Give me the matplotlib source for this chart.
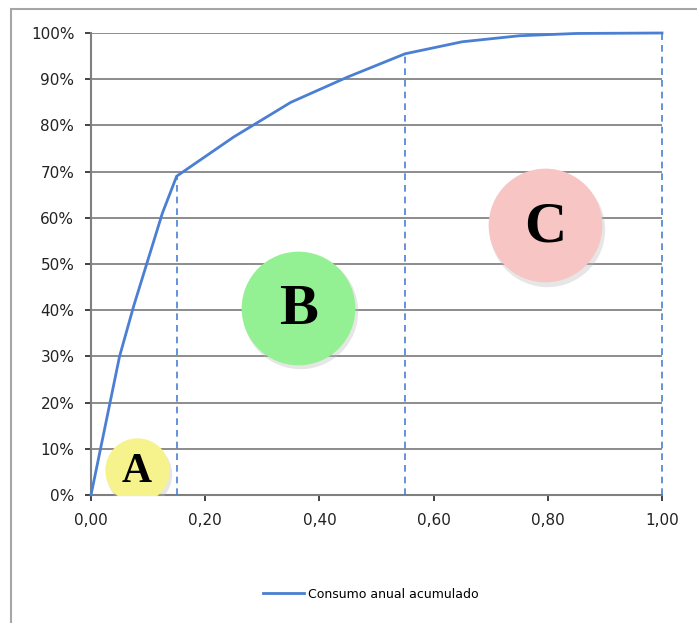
import matplotlib.pyplot as plt
import matplotlib.transforms as mtransforms
from matplotlib.patches import Rectangle
import numpy as np

# cumulative annual consumption curve (fraction of items vs. share of consumption)
share_items = [0.0, 0.02, 0.05, 0.075, 0.10, 0.125, 0.15, 0.25, 0.35, 0.45, 0.55, 0.65, 0.75, 0.85, 1.00]
cum_consumo = [0.0, 0.12, 0.30, 0.41, 0.51, 0.61, 0.69, 0.775, 0.85, 0.905, 0.955, 0.981, 0.994, 0.999, 1.0]

# class boundaries (dashed verticals)
limites_x = [0.15, 0.55, 1.00]
limites_y = [0.69, 0.955, 1.00]

clases = ["A", "B", "C"]
clase_x = [0.08, 0.363, 0.795]
clase_y = [0.054, 0.405, 0.584]
clase_col = ["#f6f38c", "#93f193", "#f7c5c3"]
clase_size = [2150, 6700, 6700]
clase_font = [30, 42, 42]

xticks = [0.0, 0.2, 0.4, 0.6, 0.8, 1.0]
yticks = np.arange(0, 1.01, 0.1)

blue = "#4a7fd3"

fig = plt.figure(figsize=(6.97, 6.23), dpi=100)
fig.patches.append(Rectangle((11 / 697, -0.02), 1.1, 1 - 9 / 623 + 0.02,
                             transform=fig.transFigure, fill=False,
                             edgecolor="#a6a6a6", lw=1.5))

ax = fig.add_axes([91 / 697, 1 - 495 / 623, 571 / 697, 462 / 623])

ax.plot(share_items, cum_consumo, color=blue, lw=2, clip_on=False,
        label="Consumo anual acumulado", zorder=4)
for lx, ly in zip(limites_x, limites_y):
    ax.plot([lx, lx], [0, ly], color=blue, lw=1.2, ls=(0, (4, 3)), clip_on=False, zorder=3)

# shaded circles with letters
shadow = mtransforms.offset_copy(ax.transData, fig=fig, x=1.5, y=-2.5, units="points")
for lbl, cx, cy, col, sz, fs in zip(clases, clase_x, clase_y, clase_col, clase_size, clase_font):
    ax.scatter([cx], [cy], s=sz * 1.03, color="#b8b8b8", alpha=0.35, lw=0,
               transform=shadow, zorder=5)
    ax.scatter([cx], [cy], s=sz, color=col, lw=0, zorder=6)
    ax.text(cx, cy - 0.005, lbl, ha="center", va="center", fontsize=fs,
            fontweight="bold", family="Liberation Serif", zorder=7)

ax.set_xlim(0, 1.0)
ax.set_ylim(0, 1.0)
ax.set_xticks(xticks)
ax.set_xticklabels(["{:.2f}".format(v).replace(".", ",") for v in xticks])
ax.set_yticks(yticks)
ax.set_yticklabels(["{:.0f}%".format(v * 100) for v in yticks])
ax.tick_params(labelsize=11, colors="#222222", length=4, width=1.2)
ax.tick_params(axis="y", pad=8)
ax.tick_params(axis="x", pad=9)

ax.grid(axis="y", color="#8c8c8c", lw=1.4)
ax.set_axisbelow(True)
for s in ["top", "right"]:
    ax.spines[s].set_visible(False)
ax.spines["left"].set_color("#7f7f7f")
ax.spines["bottom"].set_color("#7f7f7f")
ax.spines["left"].set_linewidth(1.5)
ax.spines["bottom"].set_linewidth(1.5)

ax.legend(loc="center", bbox_to_anchor=(0.49, -0.215), frameon=False,
          fontsize=9, handlelength=3.3, handletextpad=0.3)

fig.savefig("out.png", dpi=100)
